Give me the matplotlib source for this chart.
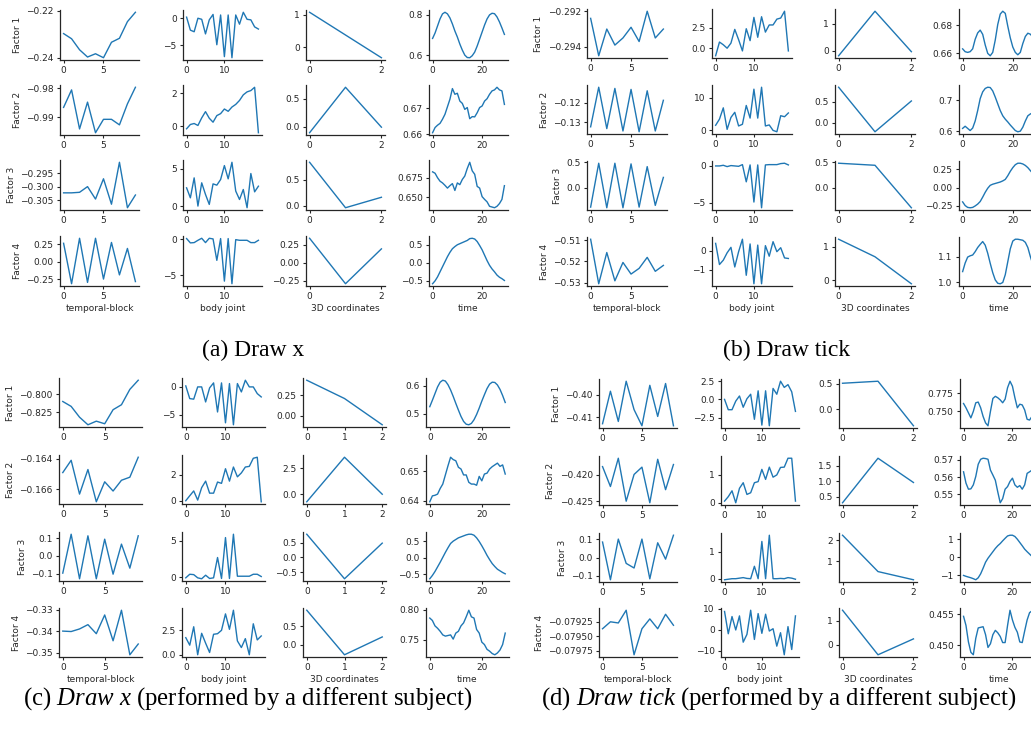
import matplotlib
matplotlib.use("Agg")
import matplotlib.pyplot as plt
from matplotlib.ticker import MaxNLocator

plt.rcParams['font.family'] = ['DejaVu Sans']
plt.rcParams['mathtext.fontset'] = 'custom'
plt.rcParams['mathtext.rm'] = 'Liberation Serif'
plt.rcParams['mathtext.it'] = 'Liberation Serif:italic'

factors = ['Factor 1', 'Factor 2', 'Factor 3', 'Factor 4']
modes = ['temporal-block', 'body joint', '3D coordinates', 'time']
captions = ['(a) Draw x', '(b) Draw tick',
            r'(c) $\it{Draw\ x}$ (performed by a different subject)',
            r'(d) $\it{Draw\ tick}$ (performed by a different subject)']

# (a) Draw x
draw_x_block = [
    [-0.2297, -0.2319, -0.2366, -0.2397, -0.2383, -0.2400, -0.2334, -0.2317, -0.2246, -0.2206],
    [-0.9866, -0.9806, -0.9940, -0.9848, -0.9953, -0.9907, -0.9907, -0.9926, -0.9854, -0.9797],
    [-0.3023, -0.3023, -0.3021, -0.3000, -0.3046, -0.2971, -0.3065, -0.2910, -0.3078, -0.3031],
    [0.264, -0.317, 0.336, -0.298, 0.336, -0.250, 0.276, -0.190, 0.190, -0.286],
]
draw_x_joint = [
    [0.2, -2.2, -2.5, 0.0, -0.2, -2.9, -0.3, 0.7, -4.9, 0.6, -7.1, 0.6, -7.3, 0.6, -1.1, 1.1, -0.2, -0.3, -1.6, -2.0],
    [-0.16, 0.10, 0.16, 0.04, 0.50, 0.88, 0.48, 0.24, 0.64, 0.76, 1.04, 0.90, 1.16, 1.32, 1.56, 1.90, 2.08, 2.16, 2.36, -0.40],
    [2.43, 1.10, 3.76, 0.00, 3.10, 1.55, 0.22, 2.96, 2.79, 3.54, 5.40, 3.63, 5.84, 2.00, 0.88, 2.21, -0.22, 4.34, 1.90, 2.65],
    [0.10, -0.50, -0.46, -0.14, 0.14, -0.46, 0.14, 0.05, -2.92, 0.10, -5.80, 0.10, -6.16, -0.05, -0.14, -0.14, -0.14, -0.46, -0.46, -0.14],
]
draw_x_coord = [
    [1.08, 0.38, -0.32],
    [-0.11, 0.71, -0.01],
    [0.83, -0.04, 0.16],
    [0.336, -0.29, 0.19],
]
draw_x_time = [
    [0.683, 0.710, 0.745, 0.780, 0.805, 0.813, 0.805, 0.785, 0.755, 0.720, 0.690, 0.655, 0.625, 0.600, 0.588,
     0.587, 0.597, 0.615, 0.645, 0.680, 0.715, 0.750, 0.780, 0.800, 0.808, 0.806, 0.790, 0.765, 0.735, 0.703],
    [0.6606, 0.6626, 0.6635, 0.6642, 0.6658, 0.6677, 0.6706, 0.6735, 0.6776, 0.6754, 0.6758, 0.6728, 0.6719, 0.6696, 0.6703,
     0.6660, 0.6668, 0.6667, 0.6683, 0.6703, 0.6709, 0.6728, 0.6737, 0.6754, 0.6767, 0.6771, 0.6781, 0.6771, 0.6767, 0.6715],
    [0.6825, 0.6807, 0.6750, 0.6706, 0.6684, 0.6653, 0.6618, 0.6649, 0.6675, 0.6588, 0.6684, 0.6662, 0.6728, 0.6772, 0.6868,
     0.6947, 0.6838, 0.6794, 0.6640, 0.6618, 0.6509, 0.6474, 0.6443, 0.6386, 0.6377, 0.6368, 0.6386, 0.6421, 0.6474, 0.6649],
    [-0.58, -0.50, -0.39, -0.25, -0.11, 0.03, 0.17, 0.29, 0.39, 0.45, 0.50, 0.53, 0.56, 0.59, 0.62,
     0.67, 0.68, 0.66, 0.59, 0.48, 0.36, 0.21, 0.06, -0.07, -0.17, -0.25, -0.34, -0.40, -0.44, -0.49],
]

# (b) Draw tick
draw_tick_block = [
    [-0.2924, -0.2945, -0.2930, -0.2939, -0.2935, -0.2929, -0.2937, -0.2920, -0.2935, -0.2930],
    [-0.1322, -0.1122, -0.1331, -0.1128, -0.1343, -0.1133, -0.1347, -0.1140, -0.1343, -0.1188],
    [-0.387, 0.480, -0.400, 0.480, -0.400, 0.467, -0.387, 0.413, -0.353, 0.200],
    [-0.5095, -0.5306, -0.5158, -0.5292, -0.5205, -0.5260, -0.5233, -0.5181, -0.5247, -0.5219],
]
draw_tick_joint = [
    [-0.92, 0.75, 0.42, 0.0, 0.62, 2.29, 1.04, -0.33, 2.37, 0.92, 3.75, 1.33, 3.83, 1.96, 2.83, 2.83, 3.54, 3.67, 4.5, -0.33],
    [1.58, 3.47, 6.95, 0.32, 4.0, 5.58, 1.37, 1.89, 7.68, 3.79, 12.7, 3.79, 13.3, 1.37, 1.68, 0.0, -0.42, 4.53, 4.21, 5.37],
    [0.0, 0.0, 0.09, -0.09, 0.05, 0.0, -0.05, 0.18, -2.16, 0.14, -4.91, 0.14, -5.69, 0.14, 0.18, 0.18, 0.18, 0.32, 0.37, 0.14],
    [0.39, -0.73, -0.5, -0.11, 0.18, -0.86, -0.05, 0.61, -1.3, 0.36, -1.75, 0.3, -1.75, 0.27, -0.29, 0.48, -0.05, 0.16, -0.38, -0.41],
]
draw_tick_coord = [
    [-0.18, 1.45, -0.03],
    [0.85, -0.22, 0.52],
    [0.48, 0.44, -0.39],
    [1.22, 0.70, -0.10],
]
draw_tick_time = [
    [0.6632, 0.6612, 0.6607, 0.6612, 0.6632, 0.6700, 0.6745, 0.6765, 0.6735, 0.6660, 0.6600, 0.6583, 0.6607, 0.6694, 0.6805,
     0.6879, 0.6899, 0.6884, 0.6793, 0.6710, 0.6645, 0.6607, 0.6590, 0.6607, 0.6670, 0.6720, 0.6743, 0.6736, 0.6715, 0.6685],
    [0.609, 0.616, 0.609, 0.602, 0.610, 0.633, 0.667, 0.706, 0.728, 0.739, 0.743, 0.742, 0.731, 0.711, 0.689,
     0.667, 0.650, 0.639, 0.630, 0.620, 0.611, 0.602, 0.598, 0.600, 0.613, 0.633, 0.650, 0.656, 0.660, 0.662],
    [-0.195, -0.245, -0.270, -0.275, -0.270, -0.250, -0.225, -0.190, -0.130, -0.065, -0.010, 0.030, 0.045, 0.055, 0.065,
     0.075, 0.090, 0.110, 0.160, 0.220, 0.270, 0.310, 0.330, 0.330, 0.320, 0.300, 0.270, 0.230, 0.190, 0.150],
    [1.042, 1.075, 1.098, 1.103, 1.106, 1.119, 1.135, 1.147, 1.158, 1.144, 1.113, 1.074, 1.038, 1.010, 0.997,
     0.995, 1.000, 1.030, 1.080, 1.130, 1.160, 1.167, 1.167, 1.165, 1.163, 1.155, 1.135, 1.100, 1.070, 1.040],
]

# (c) Draw x, other subject
draw_x2_block = [
    [-0.8100, -0.8168, -0.8318, -0.8423, -0.8373, -0.8409, -0.8214, -0.8145, -0.7932, -0.7805],
    [-0.1649, -0.1641, -0.1663, -0.1647, -0.1668, -0.1655, -0.1661, -0.1654, -0.1652, -0.1639],
    [-0.097, 0.123, -0.129, 0.114, -0.129, 0.095, -0.103, 0.067, -0.069, 0.114],
    [-0.3400, -0.3402, -0.3390, -0.3370, -0.3412, -0.3325, -0.3445, -0.3303, -0.3510, -0.3460],
]
draw_x2_joint = [
    [0.18, -2.1, -2.2, 0.0, 0.0, -2.7, -0.18, 0.72, -4.5, 0.72, -6.45, 0.6, -6.8, 0.6, -0.9, 1.2, 0.0, 0.0, -1.2, -1.8],
    [0.0, 0.38, 0.75, 0.05, 1.0, 1.5, 0.58, 0.58, 1.43, 1.33, 2.45, 1.5, 2.58, 1.83, 2.13, 2.58, 2.63, 3.25, 3.33, -0.08],
    [-0.09, 0.4, 0.35, -0.09, -0.22, 0.27, -0.18, -0.09, 2.7, -0.18, 5.44, -0.18, 5.9, 0.13, 0.13, 0.13, 0.13, 0.4, 0.4, 0.09],
    [1.73, 0.97, 2.83, 0.0, 2.17, 1.17, 0.23, 2.07, 2.13, 2.47, 4.13, 2.57, 4.5, 1.4, 0.73, 1.63, 0.0, 3.13, 1.5, 1.9],
]
draw_x2_coord = [
    [0.435, 0.21, -0.113],
    [-0.72, 3.53, 0.0],
    [0.78, -0.72, 0.48],
    [0.93, -0.27, 0.21],
]
draw_x2_time = [
    [0.525, 0.548, 0.572, 0.596, 0.613, 0.620, 0.617, 0.604, 0.585, 0.562, 0.537, 0.513, 0.490, 0.472, 0.462,
     0.460, 0.465, 0.478, 0.497, 0.520, 0.545, 0.568, 0.590, 0.606, 0.613, 0.612, 0.603, 0.587, 0.565, 0.540],
    [0.6397, 0.6417, 0.6419, 0.6423, 0.6442, 0.6457, 0.6488, 0.6519, 0.6548, 0.6540, 0.6536, 0.6514, 0.6508, 0.6488, 0.6488,
     0.6463, 0.6457, 0.6457, 0.6453, 0.6483, 0.6468, 0.6491, 0.6494, 0.6508, 0.6516, 0.6522, 0.6528, 0.6517, 0.6522, 0.6491],
    [-0.63, -0.53, -0.41, -0.27, -0.13, 0.02, 0.17, 0.31, 0.44, 0.51, 0.56, 0.61, 0.64, 0.67, 0.70,
     0.72, 0.72, 0.69, 0.61, 0.50, 0.37, 0.23, 0.08, -0.05, -0.17, -0.26, -0.34, -0.39, -0.44, -0.48],
    [0.786, 0.782, 0.773, 0.769, 0.764, 0.758, 0.756, 0.757, 0.758, 0.751, 0.761, 0.764, 0.773, 0.778, 0.788,
     0.799, 0.788, 0.786, 0.767, 0.761, 0.746, 0.742, 0.734, 0.731, 0.727, 0.725, 0.728, 0.733, 0.742, 0.761],
]

# (d) Draw tick, other subject
draw_tick2_block = [
    [-0.4128, -0.3985, -0.4118, -0.3941, -0.4066, -0.4137, -0.3959, -0.4096, -0.3951, -0.4137],
    [-0.4184, -0.4222, -0.4168, -0.4250, -0.4199, -0.4185, -0.4253, -0.4170, -0.4228, -0.4180],
    [0.084, -0.121, 0.100, -0.032, -0.057, 0.100, -0.116, 0.080, -0.009, 0.121],
    [-0.07937, -0.07925, -0.07927, -0.07905, -0.07982, -0.07937, -0.07920, -0.07937, -0.07912, -0.07931],
]
draw_tick2_joint = [
    [0.0, -1.42, -1.42, -0.24, 0.47, -1.08, 0.09, 0.71, -2.74, 1.18, -3.54, 1.18, -3.63, 1.51, 0.71, 2.5, 1.65, 2.03, 1.04, -1.65],
    [0.06, 0.22, 0.43, 0.0, 0.52, 0.72, 0.3, 0.36, 0.72, 0.76, 1.2, 0.84, 1.28, 0.92, 1.0, 1.27, 1.28, 1.6, 1.6, 0.06],
    [-0.04, -0.02, 0.0, 0.0, 0.02, 0.04, 0.01, 0.0, 0.46, 0.0, 1.38, 0.0, 1.61, 0.0, 0.0, 0.01, 0.0, 0.04, 0.02, -0.02],
    [8.8, -1.8, 6.4, 0.0, 6.7, -5.8, -2.1, 9.4, -4.5, 7.8, -1.6, 7.5, -0.5, 0.6, -7.7, -1.3, -11.8, 1.6, -9.3, 6.7],
]
draw_tick2_coord = [
    [0.51, 0.55, -0.33],
    [0.30, 1.75, 0.96],
    [2.25, 0.52, 0.13],
    [1.44, -0.41, 0.25],
]
draw_tick2_time = [
    [0.761, 0.755, 0.748, 0.741, 0.750, 0.762, 0.763, 0.755, 0.743, 0.734, 0.730, 0.750, 0.768, 0.771, 0.769,
     0.766, 0.762, 0.767, 0.783, 0.792, 0.785, 0.769, 0.755, 0.760, 0.759, 0.752, 0.739, 0.738, 0.743, 0.748],
    [0.5631, 0.5565, 0.5530, 0.5532, 0.5555, 0.5604, 0.5675, 0.5704, 0.5710, 0.5708, 0.5704, 0.5641, 0.5612, 0.5582, 0.5514,
     0.5451, 0.5475, 0.5530, 0.5545, 0.5575, 0.5594, 0.5555, 0.5541, 0.5551, 0.5530, 0.5555, 0.5622, 0.5631, 0.5641, 0.5650],
    [-1.00, -1.05, -1.09, -1.13, -1.18, -1.24, -1.13, -0.91, -0.60, -0.27, -0.05, 0.13, 0.31, 0.49, 0.64,
     0.76, 0.91, 1.05, 1.18, 1.22, 1.22, 1.15, 1.00, 0.82, 0.64, 0.45, 0.31, 0.18, 0.05, -0.08],
    [0.4547, 0.4532, 0.4505, 0.4488, 0.4484, 0.4511, 0.4528, 0.4529, 0.4530, 0.4517, 0.4496, 0.4502, 0.4517, 0.4524, 0.4520,
     0.4514, 0.4504, 0.4504, 0.4532, 0.4557, 0.4541, 0.4529, 0.4521, 0.4505, 0.4504, 0.4523, 0.4541, 0.4553, 0.4556, 0.4550],
]

W, H = 1031, 736
fig = plt.figure(figsize=(W / 100, H / 100), dpi=100)

# layout in pixels: column lefts, column width, row tops, row height, caption centre
panels = [
    dict(data=[draw_x_block, draw_x_joint, draw_x_coord, draw_x_time],
         lefts=[60, 183, 306, 429], w=79, tops=[10, 85, 160, 236], h=50,
         cap=(253, 350), capsize=17, xbins=2),
    dict(data=[draw_tick_block, draw_tick_joint, draw_tick_coord, draw_tick_time],
         lefts=[587, 712, 835, 959], w=80, tops=[9, 85, 161, 237], h=49,
         cap=(787, 350), capsize=17, xbins=2),
    dict(data=[draw_x2_block, draw_x2_joint, draw_x2_coord, draw_x2_time],
         lefts=[59, 182, 303, 426], w=83, tops=[378, 455, 532, 608], h=49,
         cap=(248, 699), capsize=17.8, xbins=3),
    dict(data=[draw_tick2_block, draw_tick2_joint, draw_tick2_coord, draw_tick2_time],
         lefts=[599, 721, 839, 960], w=78, tops=[379, 456, 533, 608], h=49,
         cap=(779, 699), capsize=17.8, xbins=2),
]

fs = 6.5
dark = '0.15'

for p, panel in enumerate(panels):
    for r in range(4):
        for c in range(4):
            vals = panel['data'][c][r]
            left, top = panel['lefts'][c], panel['tops'][r]
            ax = fig.add_axes([left / W, 1 - (top + panel['h']) / H,
                               panel['w'] / W, panel['h'] / H])
            ax.plot(range(len(vals)), vals, color='#1f77b4', lw=1.0)
            ax.spines['top'].set_visible(False)
            ax.spines['right'].set_visible(False)
            for s in ('left', 'bottom'):
                ax.spines[s].set_color(dark)
                ax.spines[s].set_linewidth(0.9)
            ax.yaxis.set_major_locator(MaxNLocator(nbins=2, steps=[1, 2, 2.5, 5, 10]))
            ax.xaxis.set_major_locator(MaxNLocator(nbins=panel['xbins'], steps=[1, 2, 2.5, 5, 10]))
            ax.tick_params(labelsize=fs, length=2.5, width=0.8, pad=2,
                           colors=dark, labelcolor=dark)
            if c == 0:
                ax.set_ylabel(factors[r], fontsize=fs, color=dark, labelpad=3)
            if r == 3:
                ax.set_xlabel(modes[c], fontsize=fs, color=dark, labelpad=2)
    cx, cy = panel['cap']
    fig.text(cx / W, 1 - cy / H, captions[p], ha='center', va='center',
             fontsize=panel['capsize'], family='Liberation Serif', color='black')

fig.savefig('out.png', dpi=100)
